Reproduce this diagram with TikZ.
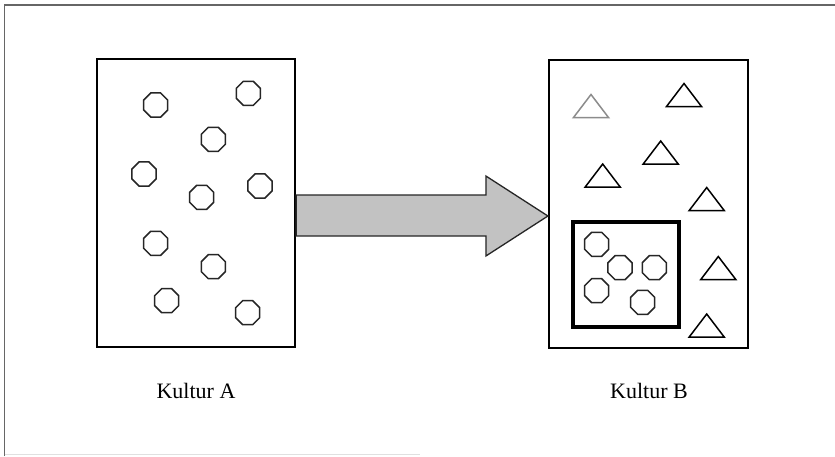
\documentclass[tikz,border=0pt]{standalone}
\usepackage{fontspec}
\setmainfont{Liberation Serif}
\usetikzlibrary{shapes.geometric,calc}
\tikzset{
  culture/.style={draw=black, line width=2.2pt, rectangle, inner sep=0pt},
  subculture/.style={draw=black, line width=3.6pt, rectangle, inner sep=0pt},
  cell/.style={draw=black!85, line width=1.5pt, regular polygon, regular polygon sides=8,
    minimum size=26pt, inner sep=0pt},
  bigarrow/.style={draw=black!85, line width=1.3pt, fill=black!24, line join=miter},
  caption/.style={font=\fontsize{22}{26}\selectfont, inner sep=0pt},
  framerule/.style={draw=black!60, line width=1.2pt},
  pics/tri/.style={code={
    \draw[line width=1.5pt, line join=miter, #1] (-17.5,11.5) -- (0,-11.5) -- (17.5,11.5) -- cycle;
  }},
}
\begin{document}
\begin{tikzpicture}[x=1pt, y=-1pt]
  \useasboundingbox (0,0) rectangle (835,456);
  \fill[white] (0,0) rectangle (835,456);

  % outer frame
  \draw[framerule] (4.5,456) -- (4.5,5) -- (835,5);
  \draw[draw=black!12, line width=1pt] (4.5,454.5) -- (420,454.5);

  % culture vessels
  \node[culture, minimum width=198pt, minimum height=288pt] (A) at (196,203) {};
  \node[culture, minimum width=199pt, minimum height=288pt] (B) at (648.5,204) {};
  \node[subculture, minimum width=106pt, minimum height=105pt] (S) at (626,274.5) {};

  % transfer arrow from A to B
  \draw[bigarrow] ($(A.east)+(0,-8)$) -- ($(B.west)+(-62,-9)$) -- ($(B.west)+(-62,-28)$)
    -- ($(B.west)+(0,12)$) -- ($(B.west)+(-62,52)$) -- ($(B.west)+(-62,32)$)
    -- ($(A.east)+(0,33)$) -- cycle;

  % cells of culture A
  \foreach \x/\y [count=\i] in {155.7/105, 248.3/93.3, 213.3/139.3, 144/174, 201.7/197.3,
      260/186, 155.7/243.3, 213.3/266.7, 166.7/300.7, 247.7/312.7}
    \node[cell] (a\i) at (\x,\y) {};

  % cells carried over into culture B
  \foreach \x/\y [count=\i] in {596.7/244.3, 620/267.7, 654.3/267.7, 596.7/290.7, 642.7/302.3}
    \node[cell] (s\i) at (\x,\y) {};

  % triangular cells of culture B
  \pic at (591,106) {tri={draw=black!45}};
  \pic at (684,95) {tri={draw=black}};
  \pic at (660.7,152.5) {tri={draw=black}};
  \pic at (602.7,175.5) {tri={draw=black}};
  \pic at (706.7,199) {tri={draw=black}};
  \pic at (718.3,268) {tri={draw=black}};
  \pic at (706.7,325.5) {tri={draw=black}};

  % captions
  \node[caption] (la) at (196,391) {Kultur A};
  \node[caption] (lb) at (649,391) {Kultur B};
\end{tikzpicture}
\end{document}
